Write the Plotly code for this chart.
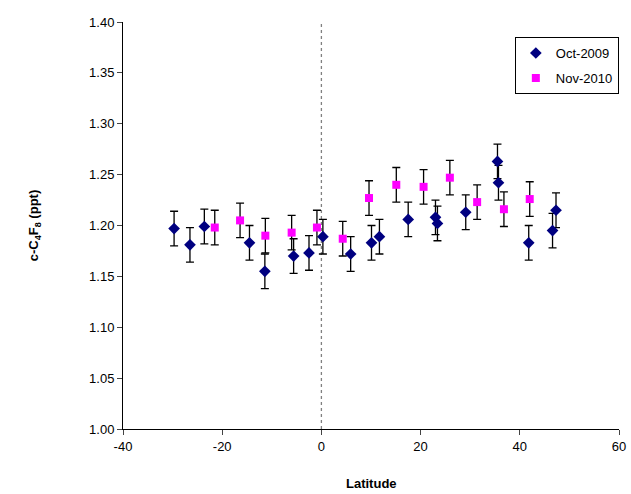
import plotly.graph_objects as go

# Oct-2009 (navy diamonds)
oct_lat = [-29.7, -26.5, -23.6, -14.5, -11.4, -5.6, -2.5, 0.3, 5.9, 10.1, 11.7, 17.5,
           23.0, 23.4, 29.1, 35.5, 35.7, 41.8, 46.6, 47.3]
oct_val = [1.197, 1.181, 1.199, 1.183, 1.155, 1.170, 1.173, 1.189, 1.172, 1.183, 1.189, 1.206,
           1.208, 1.202, 1.213, 1.263, 1.242, 1.183, 1.195, 1.215]
oct_err = [0.017] * len(oct_val)

# Nov-2010 (magenta squares)
nov_lat = [-21.5, -16.4, -11.3, -6.0, -0.9, 4.3, 9.6, 15.1, 20.6, 25.9, 31.4, 36.8, 42.0]
nov_val = [1.198, 1.205, 1.190, 1.193, 1.198, 1.187, 1.227, 1.240, 1.238, 1.247, 1.223, 1.216, 1.226]
nov_err = [0.017] * len(nov_val)

x_ticks = [-40, -20, 0, 20, 40, 60]
x_tick_labels = ["-40", "-20", "0", "20", "40", "60"]
y_ticks = [1.00, 1.05, 1.10, 1.15, 1.20, 1.25, 1.30, 1.35, 1.40]

font = "Liberation Sans, Arial, sans-serif"

fig = go.Figure()
fig.add_trace(go.Scatter(
    x=oct_lat, y=oct_val, mode="markers", name="Oct-2009", legendgroup="a",
    marker=dict(symbol="diamond", size=9, color="#000080"),
    error_y=dict(type="data", array=oct_err, color="black", thickness=1.3, width=4),
))
fig.add_trace(go.Scatter(
    x=nov_lat, y=nov_val, mode="markers", name="Nov-2010", legendgroup="b",
    marker=dict(symbol="square", size=8, color="#FF00FF"),
    error_y=dict(type="data", array=nov_err, color="black", thickness=1.3, width=4),
))

fig.add_shape(type="line", x0=0, x1=0, y0=1.0, y1=1.4, xref="x", yref="y",
              line=dict(color="#808080", width=1.3, dash="dot"), layer="below")

fig.add_annotation(text="<b>Latitude</b>", xref="paper", yref="paper", x=0.5, y=-0.135,
                   xanchor="center", yanchor="middle", showarrow=False, font=dict(size=13))

fig.update_layout(
    width=631, height=494,
    margin=dict(l=123, r=12, t=22, b=65),
    paper_bgcolor="white", plot_bgcolor="white",
    font=dict(family=font, size=13, color="black"),
    showlegend=True,
    legend=dict(x=0.79, y=0.963, xanchor="left", yanchor="top",
                bordercolor="black", borderwidth=1, bgcolor="white",
                font=dict(size=13), tracegroupgap=5, itemwidth=30),
    xaxis=dict(range=[-40, 60], tickvals=x_ticks, ticktext=x_tick_labels,
               ticks="outside", ticklen=5,
               showgrid=False, zeroline=False, showline=True, linecolor="black", linewidth=1,
               automargin=False, ticklabeloverflow="allow"),
    yaxis=dict(range=[1.0, 1.4], tickvals=y_ticks, tickformat=".2f", ticks="outside", ticklen=5,
               showgrid=False, zeroline=False, showline=True, linecolor="black", linewidth=1,
               automargin=False,
               title=dict(text="<b>c-C<sub>4</sub>F<sub>8</sub> (ppt)</b>", font=dict(size=13), standoff=47)),
)

fig.write_html("out.html", config={"displayModeBar": False},
               post_script="document.body.style.margin='0';document.body.style.overflow='hidden';")
